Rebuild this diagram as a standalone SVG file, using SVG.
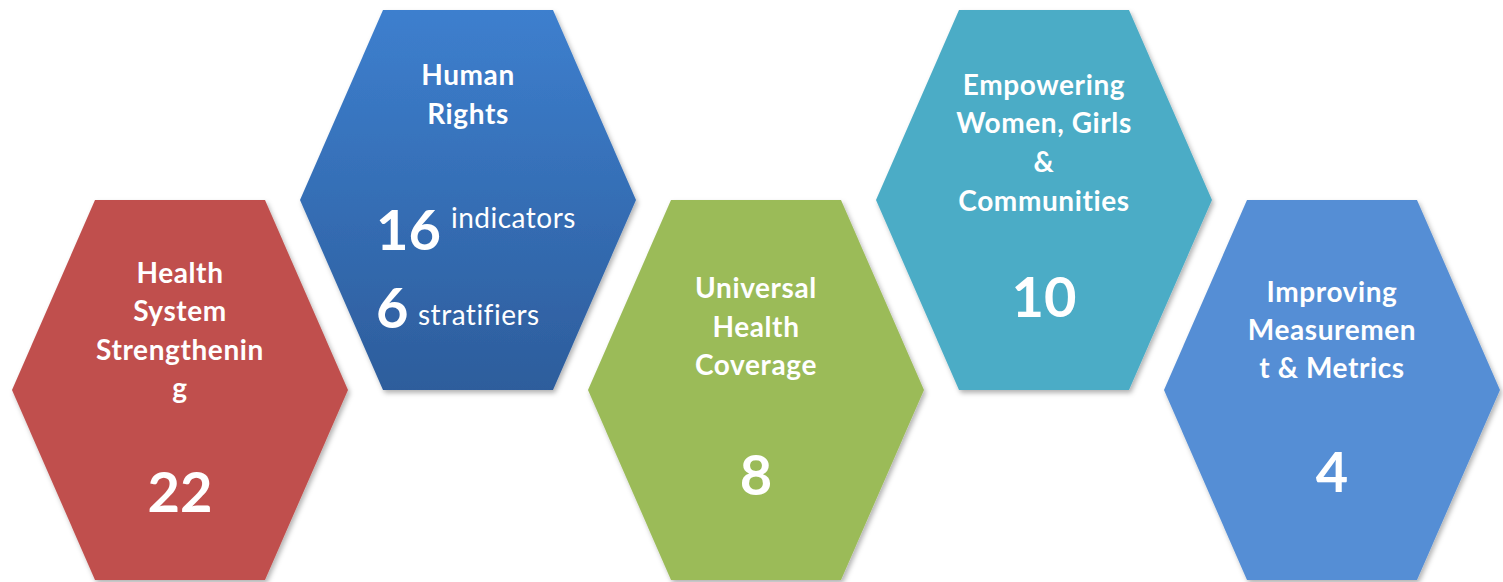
<svg xmlns="http://www.w3.org/2000/svg" width="1503" height="582" viewBox="0 0 1503 582">
  <style>
    .label { font-family: Lato, "Liberation Sans", sans-serif; font-weight: bold; font-size: 28px; letter-spacing: 0.6px; fill: #ffffff; text-anchor: middle; }
    .num { font-family: Lato, "Liberation Sans", sans-serif; font-weight: bold; font-size: 56px; fill: #ffffff; text-anchor: middle; }
    .numL { font-family: Lato, "Liberation Sans", sans-serif; font-weight: bold; font-size: 56px; fill: #ffffff; }
    .unit { font-family: Lato, "Liberation Sans", sans-serif; font-weight: normal; font-size: 28px; letter-spacing: 0.5px; fill: #ffffff; font-variant-ligatures: none; }
    .hex { filter: url(#shadow); }
  </style>
  <defs>
    <!-- flat-topped hexagon centred on (0,0) -->
    <polygon id="hexShape" points="-85,-190 85,-190 168,0 85,190 -85,190 -168,0"/>
    <linearGradient id="rightsFill" x1="0" y1="0" x2="0" y2="1">
      <stop offset="0" stop-color="#3D7FCE"/>
      <stop offset="1" stop-color="#2D5D9C"/>
    </linearGradient>
    <filter id="shadow" x="-10%" y="-10%" width="125%" height="125%">
      <feDropShadow dx="2" dy="3" stdDeviation="2.5" flood-color="#000000" flood-opacity="0.3"/>
    </filter>
  </defs>
  <rect width="1503" height="582" fill="#ffffff"/>

  <g id="connectors"/>

  <g id="health-system">
    <use href="#hexShape" x="180" y="390" fill="#C0504D" class="hex"/>
    <text class="label" x="180" y="283">Health</text>
    <text class="label" x="180" y="321">System</text>
    <text class="label" x="180" y="360">Strengthenin</text>
    <text class="label" x="180" y="398">g</text>
    <text class="num" x="180" y="512">22</text>
  </g>

  <g id="human-rights">
    <use href="#hexShape" x="468" y="200" fill="url(#rightsFill)" class="hex"/>
    <text class="label" x="468" y="85">Human</text>
    <text class="label" x="468" y="124">Rights</text>
    <text class="numL" x="376" y="250">16</text>
    <text class="unit" x="451" y="228">indicators</text>
    <text class="numL" x="376" y="328">6</text>
    <text class="unit" x="418" y="325">stratifiers</text>
  </g>

  <g id="universal-health-coverage">
    <use href="#hexShape" x="756" y="390" fill="#9BBB59" class="hex"/>
    <text class="label" x="756" y="298">Universal</text>
    <text class="label" x="756" y="337">Health</text>
    <text class="label" x="756" y="375">Coverage</text>
    <text class="num" x="756" y="495">8</text>
  </g>

  <g id="empowering">
    <use href="#hexShape" x="1044" y="200" fill="#4BACC6" class="hex"/>
    <text class="label" x="1044" y="95">Empowering</text>
    <text class="label" x="1044" y="133">Women, Girls</text>
    <text class="label" x="1044" y="172">&amp;</text>
    <text class="label" x="1044" y="211">Communities</text>
    <text class="num" x="1044" y="317">10</text>
  </g>

  <g id="measurement">
    <use href="#hexShape" x="1332" y="390" fill="#558ED5" class="hex"/>
    <text class="label" x="1332" y="302">Improving</text>
    <text class="label" x="1332" y="340">Measuremen</text>
    <text class="label" x="1332" y="378">t &amp; Metrics</text>
    <text class="num" x="1332" y="492">4</text>
  </g>
</svg>
